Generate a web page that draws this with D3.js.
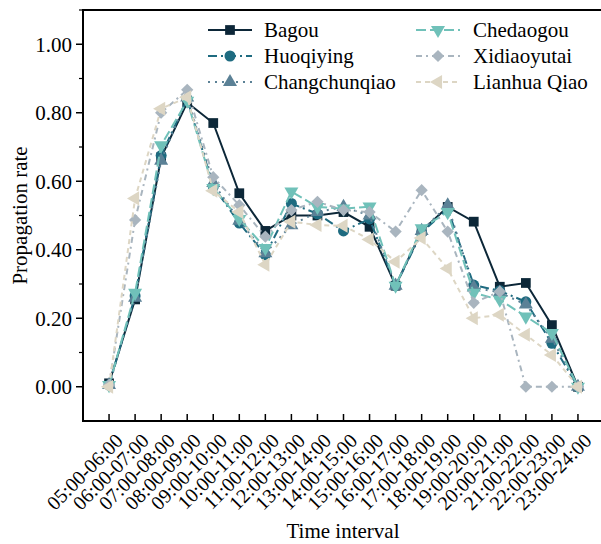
<!DOCTYPE html>
<html>
<head>
<meta charset="utf-8">
<script src="https://cdn.jsdelivr.net/npm/d3@7"></script>
<style>
  body { margin: 0; background: #fff; }
  svg { display: block; }
  svg text { font-family: "Liberation Serif", "Times New Roman", serif; }
</style>
</head>
<body>
<svg id="chart" width="601" height="544"></svg>
<script>
// time slots along x
const intervals = ["05:00-06:00","06:00-07:00","07:00-08:00","08:00-09:00","09:00-10:00",
  "10:00-11:00","11:00-12:00","12:00-13:00","13:00-14:00","14:00-15:00","15:00-16:00",
  "16:00-17:00","17:00-18:00","18:00-19:00","19:00-20:00","20:00-21:00","21:00-22:00",
  "22:00-23:00","23:00-24:00"];

const bagou = [0.01,0.255,0.67,0.83,0.77,0.565,0.455,0.50,0.50,0.51,0.467,0.295,0.455,0.525,0.482,0.292,0.303,0.18,0.0];
const huoqiying = [0.005,0.265,0.675,0.84,0.585,0.478,0.385,0.535,0.505,0.455,0.49,0.295,0.45,0.52,0.297,0.28,0.248,0.127,0.0];
const changchunqiao = [0.005,0.26,0.66,0.845,0.595,0.485,0.39,0.472,0.51,0.525,0.50,0.295,0.455,0.53,0.29,0.275,0.24,0.14,0.0];
const chedaogou = [0.005,0.274,0.705,0.835,0.58,0.49,0.405,0.57,0.525,0.52,0.526,0.295,0.463,0.51,0.274,0.254,0.205,0.157,0.0];
const xidiaoyutai = [0.005,0.487,0.80,0.867,0.612,0.53,0.438,0.516,0.54,0.516,0.51,0.453,0.574,0.453,0.245,0.278,0.0,0.0,0.0];
const lianhuaQiao = [0.0,0.55,0.812,0.845,0.572,0.51,0.356,0.482,0.472,0.47,0.43,0.365,0.434,0.345,0.20,0.21,0.152,0.093,0.0];

const yTicks = [0, 0.2, 0.4, 0.6, 0.8, 1.0];

const series = [
  {name: "Bagou", values: bagou, color: "#0c2738", dash: null, sym: d3.symbolSquare, rot: 0, size: 95},
  {name: "Huoqiying", values: huoqiying, color: "#1e6b80", dash: "9,4,2,4", sym: d3.symbolCircle, rot: 0, size: 95},
  {name: "Changchunqiao", values: changchunqiao, color: "#5b8196", dash: "2,5", sym: d3.symbolTriangle, rot: 0, size: 85},
  {name: "Chedaogou", values: chedaogou, color: "#70c1b9", dash: "10,4", sym: d3.symbolTriangle, rot: 180, size: 85},
  {name: "Xidiaoyutai", values: xidiaoyutai, color: "#a9b5bf", dash: "6,4,2,4", sym: d3.symbolSquare, rot: 45, size: 75},
  {name: "Lianhua Qiao", values: lianhuaQiao, color: "#ddd6c4", dash: "5,4", sym: d3.symbolTriangle, rot: -90, size: 85}
];

const mLeft = 83, mRight = 604, mTop = 10, mBottom = 421;
const svg = d3.select("#chart");

const x = d3.scaleLinear().domain([-1, intervals.length]).range([mLeft, mRight]);
const y = d3.scaleLinear().domain([-0.1, 1.1]).range([mBottom, mTop]);

// x axis: ticks pointing in
svg.append("g")
  .selectAll("line")
  .data(intervals)
  .enter().append("line")
  .attr("x1", (d, i) => x(i)).attr("x2", (d, i) => x(i))
  .attr("y1", mBottom).attr("y2", mBottom - 7)
  .attr("stroke", "#000").attr("stroke-width", 1.5);

svg.append("g")
  .selectAll("text")
  .data(intervals)
  .enter().append("text")
  .attr("transform", (d, i) => `translate(${x(i) + 15},${mBottom + 21}) rotate(-45)`)
  .attr("text-anchor", "end")
  .attr("font-size", 20)
  .text(d => d);

// y axis: major + minor ticks pointing out
const yMinor = d3.range(-0.1, 1.11, 0.1).map(v => +v.toFixed(2)).filter(v => !yTicks.includes(v) && v > -0.1);
svg.append("g").selectAll("line.minor")
  .data(yMinor)
  .enter().append("line")
  .attr("x1", mLeft - 4).attr("x2", mLeft)
  .attr("y1", d => y(d)).attr("y2", d => y(d))
  .attr("stroke", "#000").attr("stroke-width", 1.2);

svg.append("g").selectAll("line.major")
  .data(yTicks)
  .enter().append("line")
  .attr("x1", mLeft - 7).attr("x2", mLeft)
  .attr("y1", d => y(d)).attr("y2", d => y(d))
  .attr("stroke", "#000").attr("stroke-width", 1.5);

svg.append("g").selectAll("text")
  .data(yTicks)
  .enter().append("text")
  .attr("x", mLeft - 11)
  .attr("y", d => y(d))
  .attr("dy", "0.35em")
  .attr("text-anchor", "end")
  .attr("font-size", 21)
  .text(d => d.toFixed(2));

// frame
svg.append("rect")
  .attr("x", mLeft).attr("y", mTop)
  .attr("width", mRight - mLeft).attr("height", mBottom - mTop)
  .attr("fill", "none").attr("stroke", "#000").attr("stroke-width", 2);

// axis titles
svg.append("text")
  .attr("transform", `translate(27,${(mTop + mBottom) / 2}) rotate(-90)`)
  .attr("text-anchor", "middle")
  .attr("font-size", 21)
  .text("Propagation rate");

svg.append("text")
  .attr("x", 343).attr("y", 538)
  .attr("text-anchor", "middle")
  .attr("font-size", 21)
  .text("Time interval");

// series
const line = d3.line().x((d, i) => x(i)).y(d => y(d));

series.forEach(s => {
  const g = svg.append("g");
  g.append("path")
    .datum(s.values)
    .attr("d", line)
    .attr("fill", "none")
    .attr("stroke", s.color)
    .attr("stroke-width", 2)
    .attr("stroke-dasharray", s.dash);
  g.selectAll("path.mk")
    .data(s.values)
    .enter().append("path")
    .attr("class", "mk")
    .attr("d", d3.symbol().type(s.sym).size(s.size))
    .attr("transform", (d, i) => `translate(${x(i)},${y(d)}) rotate(${s.rot})`)
    .attr("fill", s.color);
});

// legend, two columns
const legendCols = [{lx: 208, tx: 264}, {lx: 416, tx: 473}];
const legend = svg.append("g")
  .selectAll("g")
  .data(series)
  .enter().append("g")
  .attr("transform", (d, i) => {
    const c = legendCols[Math.floor(i / 3)];
    return `translate(${c.lx},${30 + (i % 3) * 26})`;
  });

legend.append("line")
  .attr("x1", 0).attr("x2", 44)
  .attr("stroke", d => d.color)
  .attr("stroke-width", 2)
  .attr("stroke-dasharray", d => d.dash);

legend.append("path")
  .attr("d", d => d3.symbol().type(d.sym).size(d.size)())
  .attr("transform", d => `translate(22,0) rotate(${d.rot})`)
  .attr("fill", d => d.color);

legend.append("text")
  .attr("x", (d, i) => legendCols[Math.floor(i / 3)].tx - legendCols[Math.floor(i / 3)].lx)
  .attr("dy", "0.35em")
  .attr("font-size", 21)
  .text(d => d.name);
</script>
</body>
</html>
